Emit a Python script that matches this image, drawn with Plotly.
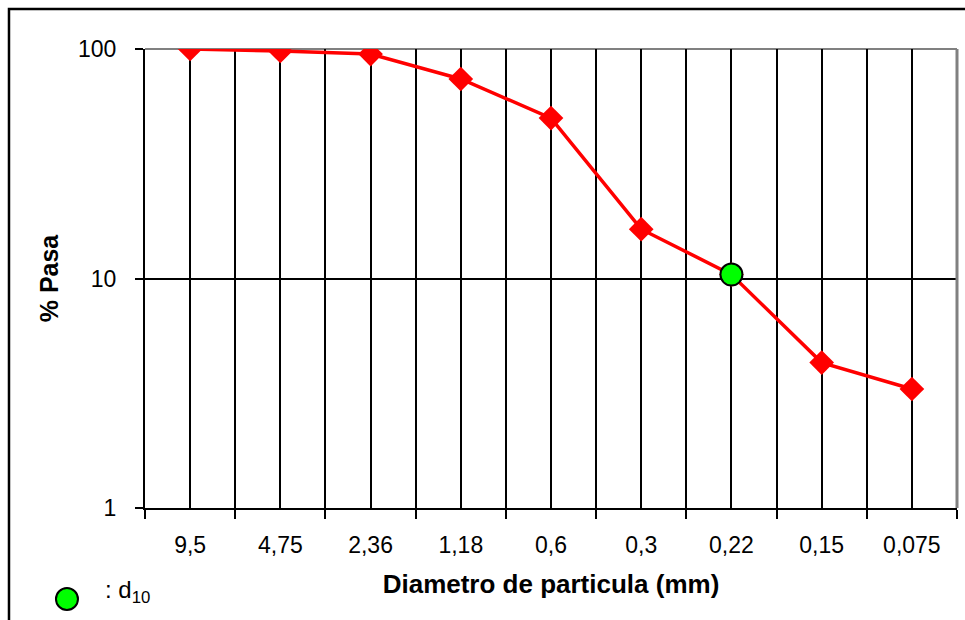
import plotly.graph_objects as go

# Sieve sizes (mm) and percent passing
diametros = ["9,5", "4,75", "2,36", "1,18", "0,6", "0,3", "0,22", "0,15", "0,075"]
pasa = [100, 98, 95, 74, 50, 16.4, 10.4, 4.3, 3.3]

# d10 point
d10_idx = 6
d10_val = 10.4

x_pos = list(range(len(diametros)))
font_fam = "Liberation Sans, Arial, sans-serif"

fig = go.Figure()

fig.add_trace(go.Scatter(
    x=x_pos, y=pasa, mode="lines+markers",
    line=dict(color="#ff0000", width=3.5),
    marker=dict(symbol="diamond", size=19, color="#ff0000"),
    showlegend=False, hoverinfo="skip",
))

fig.add_trace(go.Scatter(
    x=[d10_idx], y=[d10_val], mode="markers",
    marker=dict(symbol="circle", size=22, color="#00ff00",
                line=dict(color="black", width=2)),
    showlegend=False,
))

fig.update_xaxes(
    range=[-0.5, len(diametros) - 0.5],
    tickmode="array", tickvals=x_pos, ticktext=diametros,
    ticks="", ticklabelstandoff=15,
    showgrid=True, gridcolor="black", gridwidth=1.5,
    minor=dict(tick0=-0.5, dtick=1, ticks="outside", ticklen=9,
               tickcolor="black", tickwidth=2,
               showgrid=True, gridcolor="black", gridwidth=1.5),
    showline=True, linecolor="black", linewidth=2,
    zeroline=False,
    tickfont=dict(size=23, color="black", family=font_fam),
    title=dict(text="<b>Diametro de particula (mm)</b>", standoff=18,
               font=dict(size=26, color="black", family=font_fam)),
)

fig.update_yaxes(
    type="log", range=[0, 2],
    tickvals=[1, 10, 100], ticktext=["1", "10", "100"],
    ticks="outside", ticklen=8, tickwidth=2, tickcolor="black",
    ticklabelstandoff=14,
    showgrid=True, gridcolor="black", gridwidth=1.5,
    showline=True, linecolor="black", linewidth=2,
    zeroline=False,
    tickfont=dict(size=23, color="black", family=font_fam),
    title=dict(text="<b>% Pasa</b>", standoff=12,
               font=dict(size=25, color="black", family=font_fam)),
)

# grey plot-area border on top and right
fig.add_shape(type="line", xref="paper", yref="paper", x0=0, x1=1, y0=1, y1=1,
              line=dict(color="#808080", width=2), layer="below")
fig.add_shape(type="line", xref="paper", yref="paper", x0=1, x1=1, y0=0, y1=1,
              line=dict(color="#808080", width=3))

# outer chart frame (left and top edges visible)
fig.add_shape(type="rect", xref="paper", yref="paper",
              x0=-0.1675, x1=1.2, y0=-0.3, y1=1.0871,
              line=dict(color="black", width=2.5))

# legend for d10
fig.add_shape(type="circle", xref="paper", yref="paper",
              x0=-0.0961 - 0.01355, x1=-0.0961 + 0.01355,
              y0=-0.1983 - 0.024, y1=-0.1983 + 0.024,
              line=dict(color="black", width=2), fillcolor="#00ff00")
fig.add_annotation(xref="paper", yref="paper", x=-0.052, y=-0.183,
                   text=": d<sub>10</sub>", showarrow=False,
                   xanchor="left", yanchor="middle",
                   font=dict(size=24, color="black", family=font_fam))

fig.update_layout(
    width=965, height=620,
    margin=dict(l=145, r=8, t=49, b=112),
    plot_bgcolor="white", paper_bgcolor="white",
    font=dict(family=font_fam, color="black"),
)

fig.write_html("out.html", config={"displayModeBar": False},
               post_script="document.body.style.margin='0';")
